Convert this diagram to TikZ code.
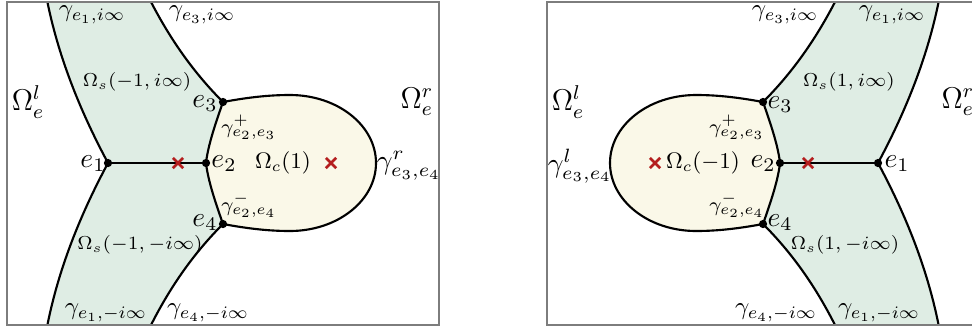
\documentclass[tikz,border=0pt]{standalone}
\usepackage{fix-cm}
\usetikzlibrary{shapes.misc}
\definecolor{sgreen}{RGB}{223,237,228}
\definecolor{syellow}{RGB}{250,248,232}
\definecolor{xred}{RGB}{180,30,30}
\definecolor{framegray}{RGB}{125,125,125}
\tikzset{
  curve/.style={line width=0.85pt, black},
  framebox/.style={draw=framegray, line width=0.5pt},
  edot/.style={circle, fill=black, inner sep=0pt, minimum size=3.3pt},
  xmark/.style={cross out, draw=xred, line width=1.1pt, inner sep=0pt, minimum size=3.0pt},
  labbig/.style={inner sep=0pt, font=\fontsize{12}{14}\selectfont},
  labe/.style={inner sep=0pt, font=\fontsize{11}{13}\selectfont},
  labmid/.style={inner sep=0pt, font=\fontsize{10}{12}\selectfont},
  labr/.style={inner sep=0pt, font=\fontsize{11}{13}\selectfont},
  labc/.style={inner sep=0pt, font=\fontsize{9}{11}\selectfont},
  labgam/.style={inner sep=0pt, font=\fontsize{8}{10}\selectfont},
  labs/.style={inner sep=0pt, font=\fontsize{7.5}{9}\selectfont},
}
\newcommand\panelgeom[1]{%
  \coordinate (#1T1) at (47,0);
  \coordinate (#1T2) at (150,0);
  \coordinate (#1B1) at (47,327);
  \coordinate (#1B2) at (150,327);
  \coordinate (#1e1) at (108,163);
  \coordinate (#1e2) at (206,163);
  \coordinate (#1e3) at (223,102);
  \coordinate (#1e4) at (223,224);
  \coordinate (#1top) at (290,95);
  \coordinate (#1rt) at (376,163);
  \coordinate (#1bot) at (290,231);
  \begin{scope}
    \clip (7,2) rectangle (439,325);
    \fill[sgreen] (#1T1) .. controls (58,55) and (79,109) .. (#1e1)
      .. controls (79,217) and (58,271) .. (#1B1) -- (#1B2)
      .. controls (171,285) and (195,252) .. (#1e4)
      .. controls (216,204) and (208,181) .. (#1e2)
      .. controls (208,145) and (216,122) .. (#1e3)
      .. controls (195,74) and (171,41) .. (#1T2) -- cycle;
    \fill[syellow] (#1e3) .. controls (250,97) and (270,95) .. (#1top)
      .. controls (337.5,95) and (376,125.4) .. (#1rt)
      .. controls (376,200.6) and (337.5,231) .. (#1bot)
      .. controls (270,231) and (250,229) .. (#1e4)
      .. controls (216,204) and (208,181) .. (#1e2)
      .. controls (208,145) and (216,122) .. (#1e3) -- cycle;
    \draw[curve] (#1T1) .. controls (58,55) and (79,109) .. (#1e1)
      .. controls (79,217) and (58,271) .. (#1B1);
    \draw[curve] (#1T2) .. controls (171,41) and (195,74) .. (#1e3)
      .. controls (216,122) and (208,145) .. (#1e2)
      .. controls (208,181) and (216,204) .. (#1e4)
      .. controls (195,252) and (171,285) .. (#1B2);
    \draw[curve] (#1e1) -- (#1e2);
    \draw[curve] (#1e3) .. controls (250,97) and (270,95) .. (#1top)
      .. controls (337.5,95) and (376,125.4) .. (#1rt)
      .. controls (376,200.6) and (337.5,231) .. (#1bot)
      .. controls (270,231) and (250,229) .. (#1e4);
  \end{scope}
  \draw[framebox] (7,2) rectangle (439,325);
  \node[edot] (#1d1) at (#1e1) {};
  \node[edot] (#1d2) at (#1e2) {};
  \node[edot] (#1d3) at (#1e3) {};
  \node[edot] (#1d4) at (#1e4) {};
  \node[xmark] (#1x1) at (178,163) {};
  \node[xmark] (#1x2) at (331,163) {};
}
\begin{document}
\begin{tikzpicture}[x=0.4pt, y=-0.4pt]
\useasboundingbox (0,0) rectangle (972,327);
\clip (0,0) rectangle (972,327);
\fill[white] (0,0) rectangle (972,327);
% left panel
\panelgeom{L}
\node[labmid] (Lg1t) at (92,15) {$\gamma_{e_1,i\infty}$};
\node[labmid] (Lg3t) at (202,15) {$\gamma_{e_3,i\infty}$};
\node[labbig] (LOl) at (28,102) {$\Omega_e^l$};
\node[labbig] (LOr) at (417,102) {$\Omega_e^r$};
\node[labs] (LOsu) at (137,82) {$\Omega_s(-1,i\infty)$};
\node[labe] (Le3l) at (205,104) {$e_3$};
\node[labgam] (Lgp) at (249,127) {$\gamma^+_{e_2,e_3}$};
\node[labe] (Le1l) at (93,164) {$e_1$};
\node[labe] (Le2l) at (224,164) {$e_2$};
\node[labc] (LOc) at (283,163) {$\Omega_c(1)$};
\node[labr] (Lgr) at (409,166) {$\gamma^r_{e_3,e_4}$};
\node[labgam] (Lgm) at (249,205) {$\gamma^-_{e_2,e_4}$};
\node[labe] (Le4l) at (205,223) {$e_4$};
\node[labs] (LOsd) at (140,245) {$\Omega_s(-1,-i\infty)$};
\node[labmid] (Lg1b) at (106,313) {$\gamma_{e_1,-i\infty}$};
\node[labmid] (Lg4b) at (208,313) {$\gamma_{e_4,-i\infty}$};
% right panel (mirror image)
\begin{scope}[shift={(986,0)}, xscale=-1]
\panelgeom{R}
\end{scope}
\node[labmid] (Rg3t) at (785,15) {$\gamma_{e_3,i\infty}$};
\node[labmid] (Rg1t) at (892,15) {$\gamma_{e_1,i\infty}$};
\node[labs] (ROsu) at (849,82) {$\Omega_s(1,i\infty)$};
\node[labbig] (ROl) at (568,102) {$\Omega_e^l$};
\node[labbig] (ROr) at (958,102) {$\Omega_e^r$};
\node[labe] (Re3l) at (780,105) {$e_3$};
\node[labgam] (Rgp) at (737,127) {$\gamma^+_{e_2,e_3}$};
\node[labr] (Rgl) at (580,166) {$\gamma^l_{e_3,e_4}$};
\node[labc] (ROc) at (703,163) {$\Omega_c(-1)$};
\node[labe] (Re2l) at (763,164) {$e_2$};
\node[labe] (Re1l) at (897,164) {$e_1$};
\node[labgam] (Rgm) at (737,205) {$\gamma^-_{e_2,e_4}$};
\node[labe] (Re4l) at (780,223) {$e_4$};
\node[labs] (ROsd) at (845,245) {$\Omega_s(1,-i\infty)$};
\node[labmid] (Rg4b) at (776,313) {$\gamma_{e_4,-i\infty}$};
\node[labmid] (Rg1b) at (879,313) {$\gamma_{e_1,-i\infty}$};
\end{tikzpicture}
\end{document}
